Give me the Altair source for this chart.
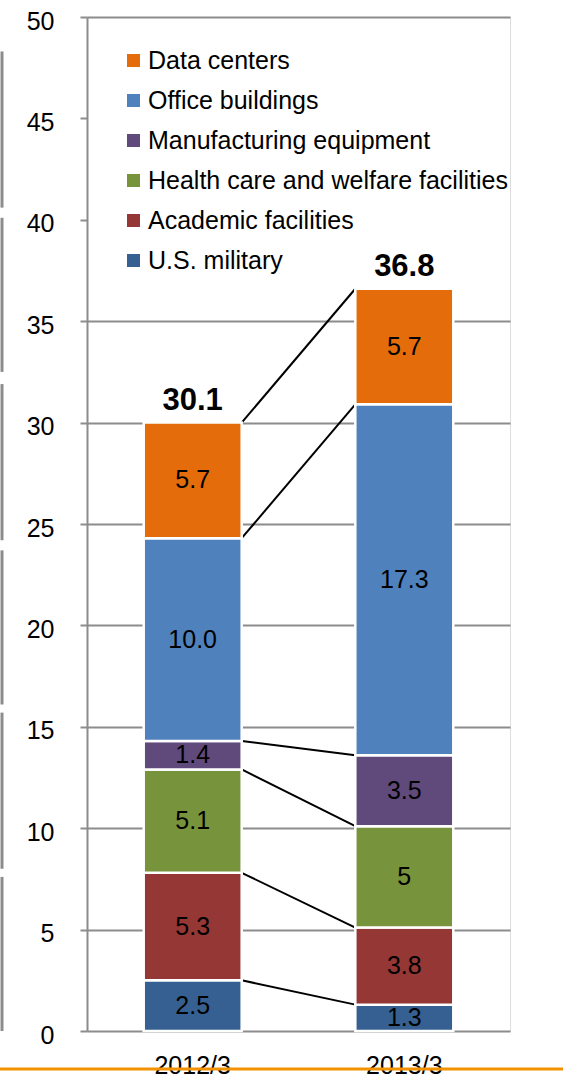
import altair as alt
import pandas as pd

FONT = "Liberation Sans"

# Stacked segments, listed bottom to top
periods = ["2012/3", "2013/3"]
series = [
    "U.S. military",
    "Academic facilities",
    "Health care and welfare facilities",
    "Manufacturing equipment",
    "Office buildings",
    "Data centers",
]
colors = ["#376092", "#953735", "#77933C", "#604A7B", "#4F81BD", "#E46C0A"]
values_2012 = [2.5, 5.3, 5.1, 1.4, 10.0, 5.7]
values_2013 = [1.3, 3.8, 5.0, 3.5, 17.3, 5.7]
labels_2012 = ["2.5", "5.3", "5.1", "1.4", "10.0", "5.7"]
labels_2013 = ["1.3", "3.8", "5", "3.5", "17.3", "5.7"]
totals = ["30.1", "36.8"]
y_ticks = list(range(0, 51, 5))

# Decorative side rule pieces at the far left (in axis units)
edge_start = [0.0, 8.0, 16.1, 24.2, 32.5, 40.6]
edge_end = [7.6, 15.7, 23.7, 31.9, 40.1, 48.3]

# Build the stacked table
rows = []
tops = {}
for period, vals, labs in [(periods[0], values_2012, labels_2012),
                           (periods[1], values_2013, labels_2013)]:
    base = 0.0
    tops[period] = []
    for i, (s, v, lab) in enumerate(zip(series, vals, labs)):
        rows.append({"period": period, "series": s, "order": i,
                     "y0": base, "y1": base + v, "ymid": base + v / 2, "label": lab})
        base += v
        tops[period].append(base)
bars_df = pd.DataFrame(rows)

totals_df = pd.DataFrame({"period": periods,
                          "top": [tops[p][-1] for p in periods],
                          "total": totals})

links_df = pd.DataFrame({"from": periods[0], "to": periods[1],
                         "y_from": tops[periods[0]], "y_to": tops[periods[1]]})

edge_df = pd.DataFrame({"s0": edge_start, "s1": edge_end})
line_df = pd.DataFrame({"k": [0]})

legend_order = series[::-1]
legend_colors = colors[::-1]

x_scale = alt.Scale(domain=periods, paddingInner=0.537, paddingOuter=0.268)
y_scale = alt.Scale(domain=[0, 50], nice=False)

x_axis = alt.Axis(title=None, labelAngle=0, domain=False, ticks=False, grid=False,
                  labelFontSize=25, labelFont=FONT, labelColor="black", labelPadding=22)
y_axis = alt.Axis(
    title=None, values=y_ticks, grid=True, gridColor="#8c8c8c", gridWidth=2,
    gridOpacity={"condition": {"test": "datum.value == 40 || datum.value == 45", "value": 0},
                 "value": 1},
    domainColor="#8c8c8c", domainWidth=2, tickColor="#8c8c8c", tickWidth=2, tickSize=7,
    labelFontSize=25, labelFont=FONT, labelColor="black", labelPadding=26, labelOffset=4,
)

links = alt.Chart(links_df).mark_rule(color="black", strokeWidth=2).encode(
    x=alt.X("from:N", scale=x_scale, bandPosition=1, axis=x_axis),
    x2=alt.X2("to:N", bandPosition=0),
    y=alt.Y("y_from:Q", scale=y_scale, axis=y_axis),
    y2="y_to:Q",
)

bars = alt.Chart(bars_df).mark_bar(stroke="white", strokeWidth=2.5).encode(
    x=alt.X("period:N", scale=x_scale, axis=x_axis),
    y=alt.Y("y0:Q", scale=y_scale, axis=y_axis),
    y2="y1:Q",
    color=alt.Color(
        "series:N",
        scale=alt.Scale(domain=legend_order, range=legend_colors),
        legend=alt.Legend(
            orient="none", legendX=34, legendY=31, title=None,
            symbolType="square", symbolSize=169, symbolStrokeWidth=0,
            labelFontSize=25, labelFont=FONT, labelColor="black",
            labelOffset=2, rowPadding=14, padding=0, labelLimit=0,
        ),
    ),
)

seg_labels = alt.Chart(bars_df).mark_text(fontSize=25, font=FONT, color="black").encode(
    x=alt.X("period:N", scale=x_scale),
    y=alt.Y("ymid:Q", scale=y_scale),
    text="label:N",
)

total_labels = alt.Chart(totals_df).mark_text(
    fontSize=31, font=FONT, fontWeight="bold", color="black", dy=-22
).encode(
    x=alt.X("period:N", scale=x_scale),
    y=alt.Y("top:Q", scale=y_scale),
    text="total:N",
)

edges = alt.Chart(edge_df).mark_rule(color="#8c8c8c", strokeWidth=3).encode(
    x=alt.value(-85),
    y=alt.Y("s0:Q", scale=y_scale),
    y2="s1:Q",
)

bottom_line = alt.Chart(line_df).mark_rule(color="#F39200", strokeWidth=3).encode(
    x=alt.value(-87), x2=alt.value(476), y=alt.value(1052),
)

chart = alt.layer(links, bars, seg_labels, total_labels, edges, bottom_line).properties(
    width=423, height=1014,
    autosize=alt.AutoSizeParams(type="none"),
    padding={"left": 87, "top": 17, "right": 53, "bottom": 46},
).configure_view(strokeWidth=0).configure(background="white")

chart.save("out.html", embed_options={"renderer": "svg", "actions": False})
